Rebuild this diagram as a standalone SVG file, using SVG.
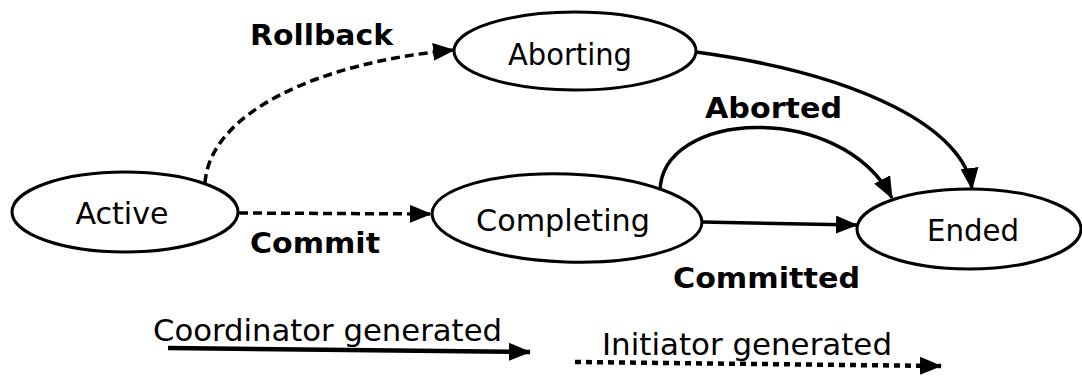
<svg xmlns="http://www.w3.org/2000/svg" width="1082" height="378" viewBox="0 0 1082 378">
<defs>
<style>
.node{fill:#fff;stroke:#000;stroke-width:3}
.lbl{font-family:"DejaVu Sans","Liberation Sans",sans-serif;font-size:31px;fill:#000}
.elbl{font-family:"DejaVu Sans","Liberation Sans",sans-serif;font-size:28px;font-weight:bold;fill:#000}
.solid{fill:none;stroke:#000;stroke-width:3.5}
.dash{fill:none;stroke:#000;stroke-width:3.5;stroke-dasharray:9 5}
.dot{fill:none;stroke:#000;stroke-width:4.5;stroke-dasharray:6 5}
</style>
<marker id="ah" markerUnits="userSpaceOnUse" markerWidth="22" markerHeight="18" refX="21" refY="9" orient="auto">
<path d="M0,0 L22,9 L0,18 Z" fill="#000"/>
</marker>
</defs>
<rect width="1082" height="378" fill="#fff"/>
<g id="connectors">
<path class="dash" d="M205,183 C210,112 320,62 454,50" marker-end="url(#ah)"/>
<path class="dash" d="M239,213 L431,214" marker-end="url(#ah)"/>
<path class="solid" d="M696,52 C865,75 965,130 972,189" marker-end="url(#ah)"/>
<path class="solid" d="M660,192 C660,110 840,100 892,198" marker-end="url(#ah)"/>
<path class="solid" d="M702,222 L857,225" marker-end="url(#ah)"/>
</g>
<g id="active">
<ellipse class="node" cx="125" cy="212" rx="113" ry="40"/>
<text class="lbl" x="122" y="224" text-anchor="middle" textLength="93" lengthAdjust="spacingAndGlyphs">Active</text>
</g>
<g id="aborting">
<ellipse class="node" cx="575" cy="51" rx="121" ry="39"/>
<text class="lbl" x="570" y="65" text-anchor="middle" textLength="124" lengthAdjust="spacingAndGlyphs">Aborting</text>
</g>
<g id="completing">
<ellipse class="node" cx="567" cy="218" rx="135" ry="44" transform="rotate(2 567 218)"/>
<text class="lbl" x="563" y="231" text-anchor="middle" textLength="174" lengthAdjust="spacingAndGlyphs">Completing</text>
</g>
<g id="ended">
<ellipse class="node" cx="969" cy="229" rx="112" ry="40"/>
<text class="lbl" x="973" y="241" text-anchor="middle" textLength="92" lengthAdjust="spacingAndGlyphs">Ended</text>
</g>
<g id="edge-labels">
<text class="elbl" x="250" y="45" textLength="143" lengthAdjust="spacingAndGlyphs">Rollback</text>
<text class="elbl" x="705" y="118" textLength="137" lengthAdjust="spacingAndGlyphs">Aborted</text>
<text class="elbl" x="250" y="253" textLength="130" lengthAdjust="spacingAndGlyphs">Commit</text>
<text class="elbl" x="673" y="288" textLength="187" lengthAdjust="spacingAndGlyphs">Committed</text>
</g>
<g id="legend">
<text class="lbl" x="153" y="341" textLength="349" lengthAdjust="spacingAndGlyphs">Coordinator generated</text>
<path class="solid" style="stroke-width:4.5" d="M168,348 L530,352" marker-end="url(#ah)"/>
<text class="lbl" x="602" y="355" textLength="290" lengthAdjust="spacingAndGlyphs">Initiator generated</text>
<path class="dot" d="M575,362 L941,366" marker-end="url(#ah)"/>
</g>
</svg>
